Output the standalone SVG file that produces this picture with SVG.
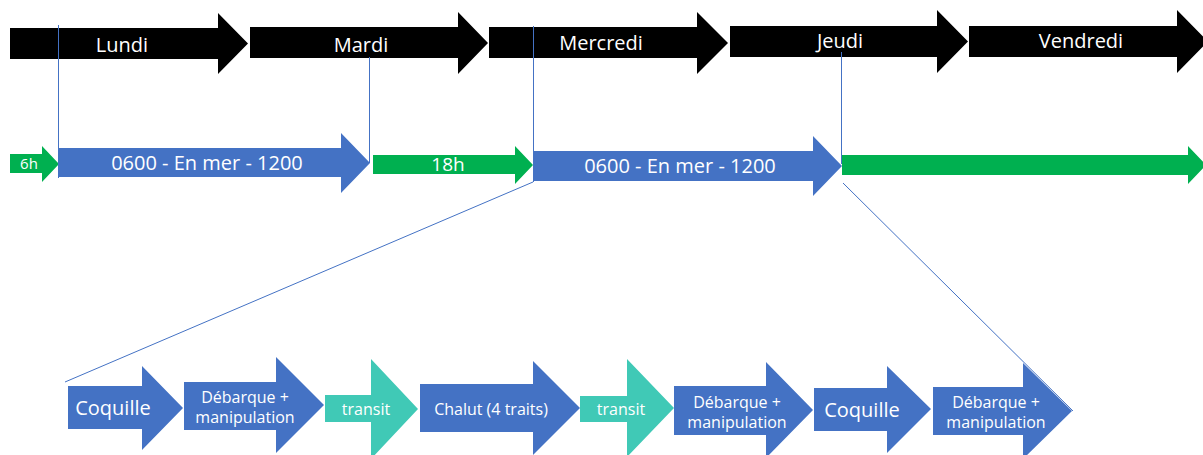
<svg xmlns="http://www.w3.org/2000/svg" width="1203" height="455" viewBox="0 0 1203 455">
<style>
.day{fill:#000}
.blue{fill:#4472C4}
.green{fill:#00B050}
.teal{fill:#40C9B6}
text{font-family:"Open Sans","Liberation Sans",sans-serif;fill:#fff;text-anchor:middle}
.t20{font-size:20px}
.t19{font-size:19px}
.t16{font-size:16px}
.t15{font-size:15px}
.line{stroke:#4472C4;stroke-width:1;fill:none}
</style>
<rect width="1203" height="455" fill="#fff"/>
<g id="lundi"><polygon class="day" points="10,28 218,28 218,13 248,43.5 218,74 218,59 10,59"/><text class="t20" x="122" y="52">Lundi</text></g>
<g id="mardi"><polygon class="day" points="250,27 458,27 458,12 488,43 458,74 458,58 250,58"/><text class="t20" x="361" y="52">Mardi</text></g>
<g id="mercredi"><polygon class="day" points="489,27 697,27 697,12 728,43 697,74 697,58 489,58"/><text class="t20" x="601" y="50">Mercredi</text></g>
<g id="jeudi"><polygon class="day" points="730,26 937,26 937,10 968,41.5 937,73 937,57 730,57"/><text class="t20" x="840" y="48">Jeudi</text></g>
<g id="vendredi"><polygon class="day" points="969,26 1177,26 1177,10 1208,41.5 1177,73 1177,57 969,57"/><text class="t20" x="1081" y="48">Vendredi</text></g>

<g id="h6"><polygon class="green" points="10,154 42,154 42,146 59,164 42,182 42,173 10,173"/><text class="t15" x="29" y="169">6h</text></g>
<g id="mer1"><polygon class="blue" points="58,148 341,148 341,133 370,163 341,193 341,177 58,177"/><text class="t20" x="207" y="170">0600 - En mer - 1200</text></g>
<g id="h18"><polygon class="green" points="373,155 515,155 515,146 533,165 515,184 515,174 373,174"/><text class="t19" x="448" y="171">18h</text></g>
<g id="mer2"><polygon class="blue" points="533,151 813,151 813,136 842,166 813,196 813,181 533,181"/><text class="t20" x="680" y="173">0600 - En mer - 1200</text></g>
<g id="reste"><polygon class="green" points="842,155 1188,155 1188,146 1206,165 1188,184 1188,175 842,175"/></g>

<g id="coquille1"><polygon class="blue" points="68,386 142,386 142,366 183,408 142,450 142,429 68,429"/><text class="t20" x="113" y="415">Coquille</text></g>
<g id="debarque1"><polygon class="blue" points="184,382 276,382 276,357 324,405 276,453 276,430 184,430"/><text class="t16" x="245" y="403">Débarque +</text><text class="t16" x="245" y="423">manipulation</text></g>
<g id="transit1"><polygon class="teal" points="325,395 371,395 371,359 418,409 371,459 371,422 325,422"/><text class="t16" x="366" y="415">transit</text></g>
<g id="chalut"><polygon class="blue" points="420,384 533,384 533,361 580,408 533,455 533,432 420,432"/><text class="t16" x="491" y="415">Chalut (4 traits)</text></g>
<g id="transit2"><polygon class="teal" points="580,396 627,396 627,359 674,408 627,457 627,422 580,422"/><text class="t16" x="621" y="415">transit</text></g>
<g id="debarque2"><polygon class="blue" points="674,386 766,386 766,362 813,410 766,458 766,435 674,435"/><text class="t16" x="737" y="408">Débarque +</text><text class="t16" x="737" y="428">manipulation</text></g>
<g id="coquille2"><polygon class="blue" points="814,388 887,388 887,366 931,409 887,453 887,431 814,431"/><text class="t20" x="862" y="417">Coquille</text></g>
<g id="debarque3"><polygon class="blue" points="933,387 1023,387 1023,363 1072,411 1023,459 1023,435 933,435"/><text class="t16" x="996" y="408">Débarque +</text><text class="t16" x="996" y="428">manipulation</text></g>

<g id="connectors">
<line class="line" x1="58.5" y1="25" x2="58.5" y2="178"/>
<line class="line" x1="369.5" y1="57" x2="369.5" y2="163"/>
<line class="line" x1="533.5" y1="26" x2="533.5" y2="182"/>
<line class="line" x1="841.5" y1="52" x2="841.5" y2="164"/>
<line class="line" x1="533" y1="182" x2="65" y2="382"/>
<line class="line" x1="843" y1="183" x2="1073" y2="411"/>
</g>
</svg>
